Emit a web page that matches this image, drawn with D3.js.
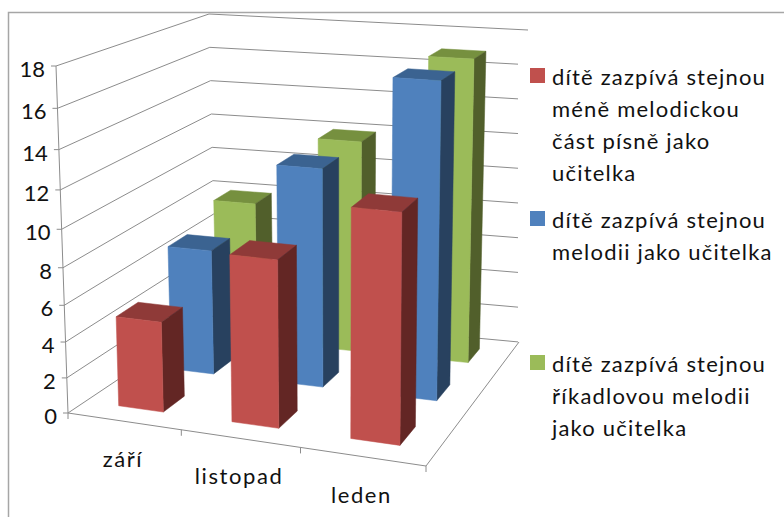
<!DOCTYPE html>
<html>
<head>
<meta charset="utf-8">
<script src="https://cdnjs.cloudflare.com/ajax/libs/d3/7.8.5/d3.min.js"></script>
<style>
body { margin: 0; background: #fff; }
text { font-family: Lato, "Open Sans", sans-serif; fill: #111; }
</style>
</head>
<body>
<script>
// values
const months = ["září", "listopad", "leden"];
const seriesNames = ["méně melodická", "stejná melodie", "říkadlová melodie"];
const redValues = [5, 9, 12];
const blueValues = [7, 12, 17];
const greenValues = [8, 12, 17];
const valueTicks = [0, 2, 4, 6, 8, 10, 12, 14, 16, 18];

const legendLines = [
  ["dítě zazpívá stejnou", "méně melodickou", "část písně jako", "učitelka"],
  ["dítě zazpívá stejnou", "melodii jako učitelka"],
  ["dítě zazpívá stejnou", "říkadlovou melodii", "jako učitelka"]
];
const legendRowY = [85, 228, 372];

// front, side and top shade of each series
const shades = [
  {front: "#C0504D", side: "#632624", top: "#8F3A38"},
  {front: "#4F81BD", side: "#28415F", top: "#3B6391"},
  {front: "#9BBB59", side: "#515F2B", top: "#76903F"}
];

const width = 784, height = 517;

const svg = d3.select("body").append("svg")
    .attr("width", width)
    .attr("height", height);

// the four corners of the floor and of the top of the 3d box, as they land on screen
// order: front left, front right, back right, back left
const floorCorners = [[68, 413], [426, 466], [519, 342], [216, 314]];
const topCorners = [[56, 66], [430, 95], [528, 30], [209, 14]];
const stretchU = 1.09; // categories are spaced more evenly than the corners alone suggest

// unit square -> quad
function quadMap(q) {
  const dx1 = q[1][0] - q[2][0], dx2 = q[3][0] - q[2][0], sx = q[0][0] - q[1][0] + q[2][0] - q[3][0];
  const dy1 = q[1][1] - q[2][1], dy2 = q[3][1] - q[2][1], sy = q[0][1] - q[1][1] + q[2][1] - q[3][1];
  const det = dx1 * dy2 - dx2 * dy1;
  const g = (sx * dy2 - dx2 * sy) / det, h = (dx1 * sy - sx * dy1) / det;
  const a = q[1][0] - q[0][0] + g * q[1][0], b = q[3][0] - q[0][0] + h * q[3][0];
  const d = q[1][1] - q[0][1] + g * q[1][1], e = q[3][1] - q[0][1] + h * q[3][1];
  return function(u, v) {
    const w = g * u + h * v + 1;
    return [(a * u + b * v + q[0][0]) / w, (d * u + e * v + q[0][1]) / w];
  };
}
const floorMap = quadMap(floorCorners), topMap = quadMap(topCorners);

const x = d3.scaleBand().domain(months).range([0, 1]).paddingInner(0.6).paddingOuter(0.3);
const z = d3.scaleBand().domain(seriesNames).range([0, 1]).paddingInner(0.6).paddingOuter(0.3);
const y = d3.scaleLinear().domain([0, 18]).range([0, 1]);

function project(u, v, w) {
  const uu = u / (u + (1 - u) / stretchU);
  const a = floorMap(uu, v), b = topMap(uu, v);
  // the near edge of the box spreads a little towards the top
  const c = 0.9 + 0.1 * v;
  const t = c * w / (1 + (c - 1) * w);
  return [a[0] + (b[0] - a[0]) * t, a[1] + (b[1] - a[1]) * t];
}

const line = d3.line();

// walls
const grid = svg.append("g").attr("fill", "none").attr("stroke", "#8c8c8c").attr("stroke-width", 1);

valueTicks.forEach(function(t) {
  grid.append("path").attr("d", line([project(0, 0, y(t)), project(0, 1, y(t)), project(1, 1, y(t))]));
});

// white legend box sits over the wall lines
svg.append("rect")
    .attr("x", 518).attr("y", 38)
    .attr("width", 266).attr("height", 420)
    .attr("fill", "#fff");

const axes = svg.append("g").attr("fill", "none").attr("stroke", "#8c8c8c").attr("stroke-width", 1);
axes.append("path").attr("d", line([project(0, 0, 0), project(0, 0, 1)]));
axes.append("path").attr("d", line([project(0, 0, 0), project(1, 0, 0), project(1, 1, 0)]));

valueTicks.forEach(function(t) {
  const p = project(0, 0, y(t));
  axes.append("path").attr("d", line([p, [p[0] - 5, p[1]]]));
  svg.append("text")
      .attr("x", p[0] - 11)
      .attr("y", p[1] + 11)
      .attr("text-anchor", "end")
      .attr("font-size", 22)
      .text(t);
});

d3.range(0, months.length + 1).forEach(function(i) {
  const p = project(i / months.length, 0, 0);
  axes.append("path").attr("d", line([p, [p[0], p[1] + 6]]));
});

months.forEach(function(m) {
  const p = project(x(m) + x.bandwidth() / 2, 0, 0);
  svg.append("text")
      .attr("x", p[0] - 1)
      .attr("y", p[1] + 46)
      .attr("text-anchor", "middle")
      .attr("font-size", 22)
      .attr("letter-spacing", 1.6)
      .text(m);
});

// bars, back row first
const allValues = [redValues, blueValues, greenValues];
d3.range(2, -1, -1).forEach(function(s) {
  const v0 = z(seriesNames[s]), v1 = v0 + z.bandwidth();
  months.forEach(function(m, i) {
    const u0 = x(m), u1 = u0 + x.bandwidth(), h = y(allValues[s][i]);
    const faces = [
      {fill: shades[s].top, pts: [[u0, v0, h], [u1, v0, h], [u1, v1, h], [u0, v1, h]]},
      {fill: shades[s].side, pts: [[u1, v0, 0], [u1, v1, 0], [u1, v1, h], [u1, v0, h]]},
      {fill: shades[s].front, pts: [[u0, v0, 0], [u1, v0, 0], [u1, v0, h], [u0, v0, h]]}
    ];
    faces.forEach(function(f) {
      svg.append("path")
          .attr("d", line(f.pts.map(function(p) { return project(p[0], p[1], p[2]); })) + "Z")
          .attr("fill", f.fill)
          .attr("stroke", f.fill)
          .attr("stroke-width", 0.5);
    });
  });
});

// chart border
svg.append("path")
    .attr("d", "M8.5," + height + "V12.5H" + width)
    .attr("fill", "none")
    .attr("stroke", "#a6a6a6")
    .attr("stroke-width", 1.5);

// legend
legendLines.forEach(function(lines, s) {
  svg.append("rect")
      .attr("x", 530).attr("y", legendRowY[s] - 17)
      .attr("width", 15).attr("height", 15)
      .attr("fill", shades[s].front);
  lines.forEach(function(t, k) {
    svg.append("text")
        .attr("x", 552)
        .attr("y", legendRowY[s] + k * 32)
        .attr("font-size", 22)
        .attr("letter-spacing", 1.2)
        .text(t);
  });
});
</script>
</body>
</html>
